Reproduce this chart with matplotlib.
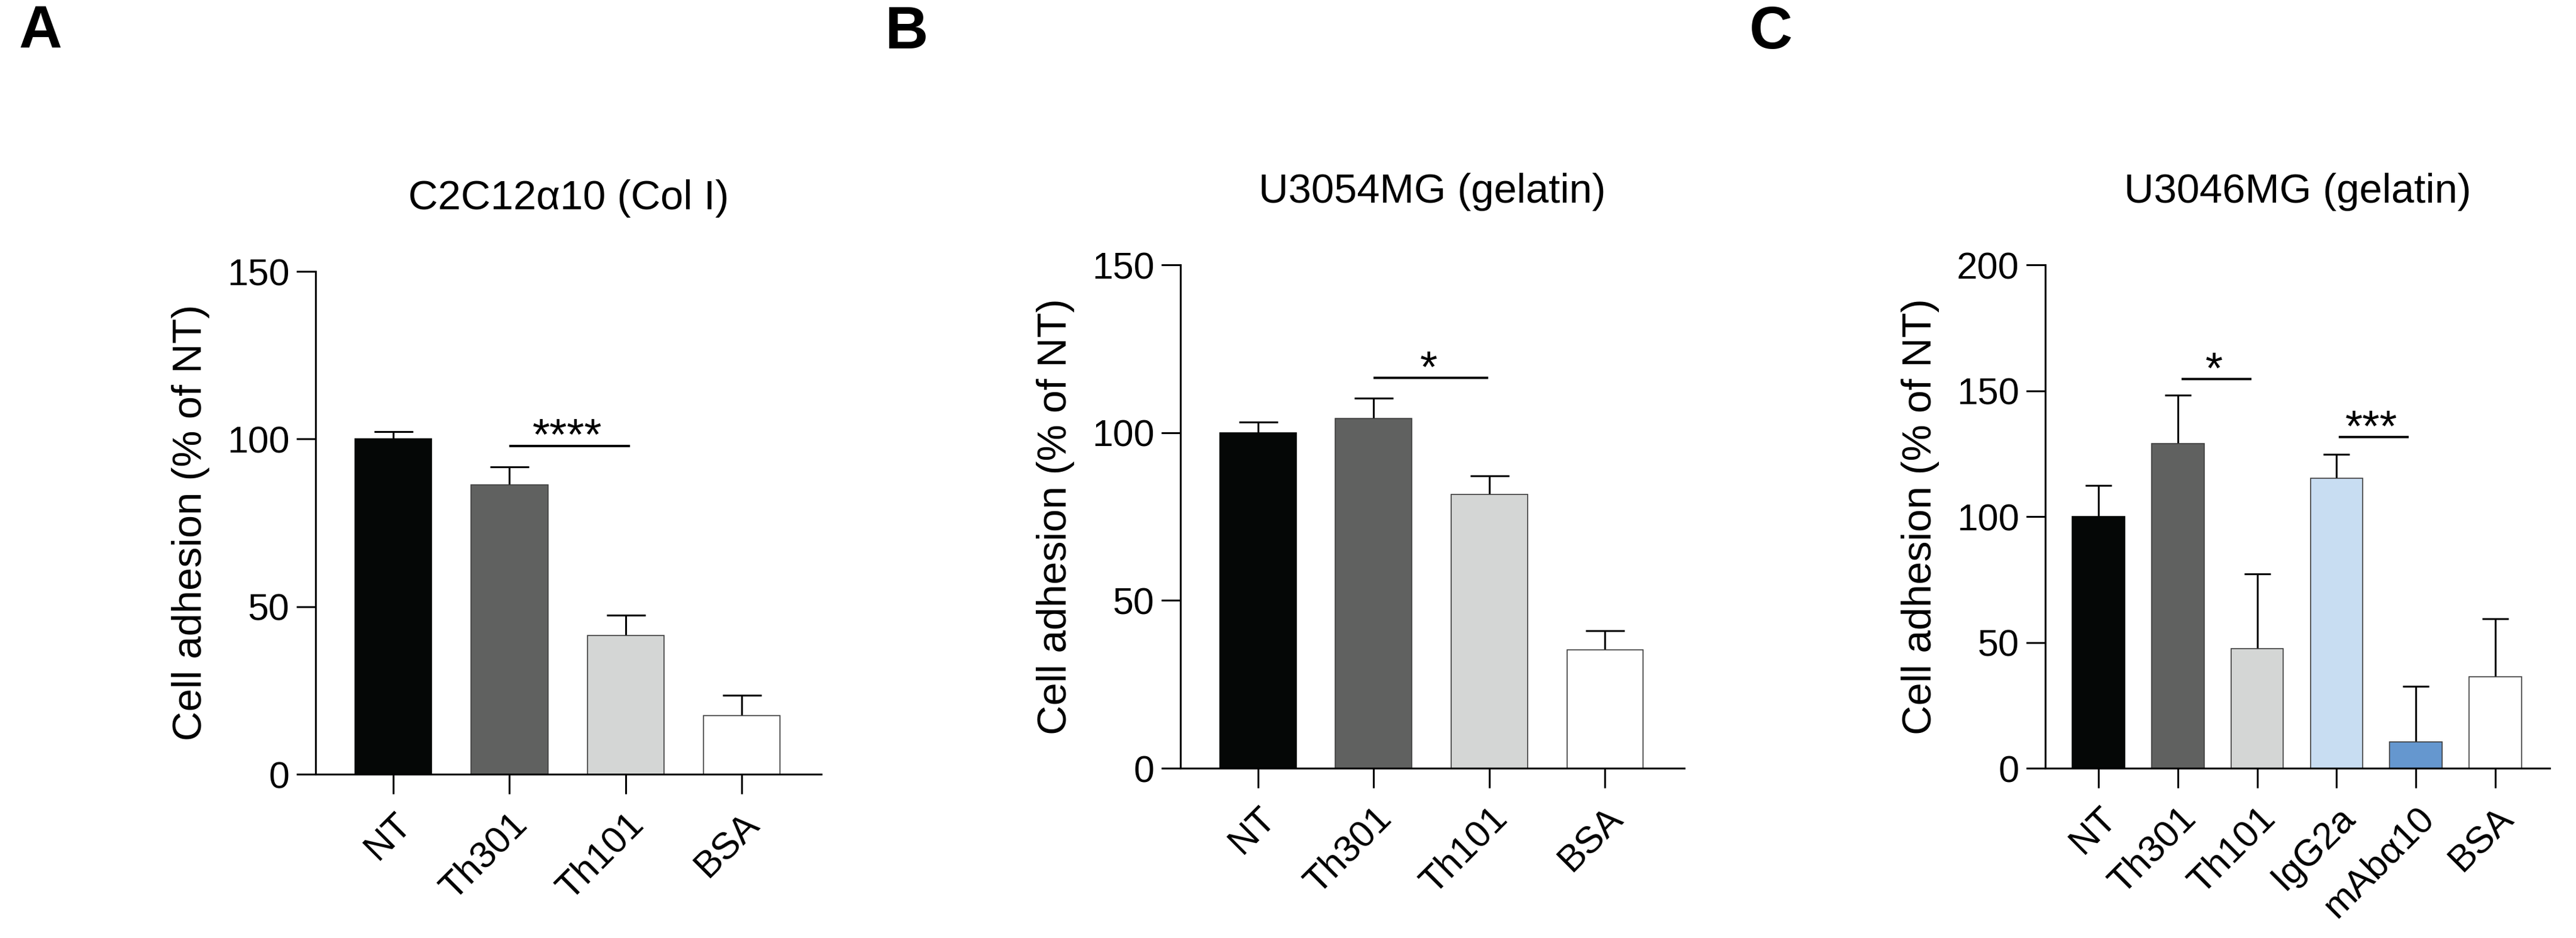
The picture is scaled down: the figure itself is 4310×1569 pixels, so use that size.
import numpy as np
import matplotlib.pyplot as plt

plt.rcParams['font.family'] = ['Liberation Sans', 'DejaVu Sans']

# Panel A - C2C12a10 on collagen I
labels_a = ['NT', 'Th301', 'Th101', 'BSA']
means_a = [100, 86.3, 41.4, 17.4]
sem_a = [2.2, 5.4, 6.1, 6.1]
sig_a = [(1.0, 2.04, 98.0, '****')]

# Panel B - U3054MG on gelatin
labels_b = ['NT', 'Th301', 'Th101', 'BSA']
means_b = [100, 104.3, 81.6, 35.2]
sem_b = [3.2, 5.9, 5.5, 5.7]
sig_b = [(1.0, 1.99, 116.3, '*')]

# Panel C - U3046MG on gelatin
labels_c = ['NT', 'Th301', 'Th101', 'IgG2a', 'mAbα10', 'BSA']
means_c = [100, 129.0, 47.6, 115.3, 10.5, 36.4]
sem_c = [12.4, 19.3, 29.5, 9.5, 22.1, 23.1]
sig_c = [(1.05, 1.93, 154.6, '*'), (3.03, 3.91, 131.6, '***')]

colors = {'NT': '#050706', 'Th301': '#606160', 'Th101': '#d4d6d5',
          'BSA': '#ffffff', 'IgG2a': '#c8ddf2', 'mAbα10': '#6597cf'}

W, H = 4310, 1569
fig = plt.figure(figsize=(W / 300, H / 300), dpi=300)

lw = 0.75  # axis / error bar line width


def panel(rect, letter, letter_x, title, labels, means, sems, sigs,
          ymax, capsize):
    ax = fig.add_axes(rect)
    x = np.arange(len(labels))
    edges = ['#050706' if l == 'NT' else '#3c3c3c' for l in labels]
    ax.bar(x, means, width=0.66, color=[colors[l] for l in labels],
           edgecolor=edges, linewidth=0.4, zorder=2)
    _, caps, _ = ax.errorbar(x, means, yerr=[np.zeros(len(x)), sems],
                             fmt='none', ecolor='black', elinewidth=lw,
                             capsize=capsize, capthick=lw, zorder=1)
    # only the upper cap is shown
    for c in caps:
        if np.allclose(c.get_ydata(), means):
            c.set_visible(False)
    for x0, x1, y, txt in sigs:
        ax.plot([x0, x1], [y, y], color='black', lw=0.95,
                solid_capstyle='butt')
        ax.annotate(txt, ((x0 + x1) / 2, y), xytext=(-1, -1.6),
                    textcoords='offset points', ha='center',
                    va='baseline', fontsize=18)
    ax.set_xlim(-0.67, len(labels) - 1 + 0.685)
    ax.set_ylim(0, ymax)
    ax.set_yticks(np.arange(0, ymax + 1, 50))
    ax.set_xticks(x)
    ax.set_xticklabels(labels, rotation=45, ha='right', va='top',
                       rotation_mode='anchor')
    for s in ['top', 'right']:
        ax.spines[s].set_visible(False)
    for s in ['left', 'bottom']:
        ax.spines[s].set_linewidth(lw)
    ax.tick_params(axis='both', length=7.8, width=lw, labelsize=15)
    ax.tick_params(axis='y', pad=2.6)
    ax.tick_params(axis='x', pad=5)
    ax.set_ylabel('Cell adhesion (% of NT)', fontsize=16.5, labelpad=7)
    ax.set_title(title, fontsize=16.5, pad=25)
    fig.text(letter_x, 0.995, letter, fontsize=24, fontweight='bold',
             va='top', ha='left')
    return ax


panel([528 / W, 1 - 1295 / H, 846 / W, 841 / H], 'A', 0.0072,
      'C2C12α10 (Col I)', labels_a, means_a, sem_a, sig_a, 150, 7.8)
panel([1975 / W, 1 - 1285 / H, 843 / W, 842 / H], 'B', 0.3434,
      'U3054MG (gelatin)', labels_b, means_b, sem_b, sig_b, 150, 7.8)
panel([3422 / W, 1 - 1285 / H, 844 / W, 842 / H], 'C', 0.679,
      'U3046MG (gelatin)', labels_c, means_c, sem_c, sig_c, 200, 5.2)

fig.savefig('out.png', dpi=300, facecolor='white')
